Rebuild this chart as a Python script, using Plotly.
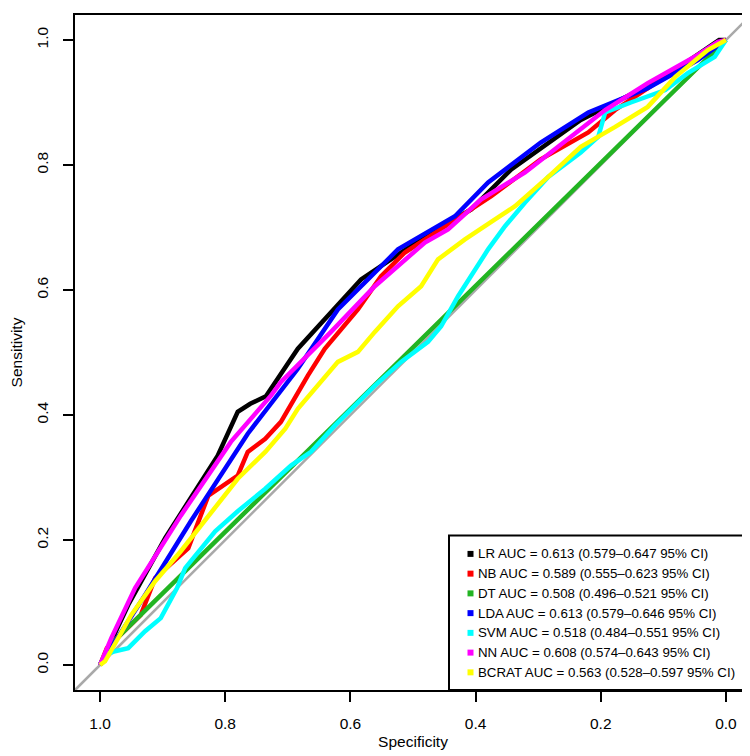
import plotly.graph_objects as go

# ---------------- data ----------------
models = ["LR", "NB", "DT", "LDA", "SVM", "NN", "BCRAT"]
auc = [0.613, 0.589, 0.508, 0.613, 0.518, 0.608, 0.563]
ci_low = [0.579, 0.555, 0.496, 0.579, 0.484, 0.574, 0.528]
ci_high = [0.647, 0.623, 0.521, 0.646, 0.551, 0.643, 0.597]
colors = ["#000000", "#FF0000", "#22B422", "#0000FF", "#00FFFF", "#FF00FF", "#FFFF00"]

lr_spec = [1.0, 0.955, 0.896, 0.812, 0.780, 0.760, 0.735, 0.684, 0.583, 0.471, 0.407, 0.343, 0.232, 0.097, 0.011, 0.0]
lr_sens = [0.0, 0.096, 0.203, 0.335, 0.405, 0.418, 0.430, 0.506, 0.617, 0.692, 0.729, 0.793, 0.872, 0.941, 1.0, 1.0]

nb_spec = [1.0, 0.989, 0.935, 0.912, 0.859, 0.827, 0.780, 0.764, 0.736, 0.711, 0.668, 0.641, 0.588,
           0.551, 0.513, 0.433, 0.375, 0.296, 0.220, 0.177, 0.113, 0.045, 0.0]
nb_sens = [0.0, 0.027, 0.080, 0.139, 0.187, 0.271, 0.303, 0.341, 0.362, 0.389, 0.463, 0.506, 0.569,
           0.622, 0.660, 0.713, 0.750, 0.809, 0.852, 0.888, 0.931, 0.976, 1.0]

dt_spec = [1.0, 0.985, 0.0]
dt_sens = [0.0, 0.031, 1.0]

lda_spec = [1.0, 0.928, 0.855, 0.764, 0.684, 0.620, 0.524, 0.433, 0.380, 0.296, 0.220, 0.125, 0.045, 0.0]
lda_sens = [0.0, 0.112, 0.230, 0.370, 0.474, 0.569, 0.665, 0.718, 0.772, 0.836, 0.884, 0.923, 0.968, 1.0]

svm_spec = [1.0, 0.992, 0.976, 0.955, 0.928, 0.903, 0.877, 0.864, 0.816, 0.780, 0.736, 0.695, 0.663,
            0.625, 0.561, 0.519, 0.476, 0.455, 0.428, 0.401, 0.380, 0.353, 0.321, 0.284, 0.232,
            0.204, 0.193, 0.152, 0.097, 0.061, 0.018, 0.0]
svm_sens = [0.0, 0.016, 0.022, 0.027, 0.054, 0.075, 0.123, 0.155, 0.214, 0.246, 0.282, 0.319, 0.341,
            0.383, 0.447, 0.485, 0.517, 0.542, 0.590, 0.633, 0.665, 0.702, 0.740, 0.781, 0.820,
            0.845, 0.884, 0.900, 0.920, 0.947, 0.973, 1.0]

nn_spec = [1.0, 0.982, 0.944, 0.871, 0.791, 0.727, 0.711, 0.631, 0.561, 0.481, 0.444, 0.391, 0.321,
           0.268, 0.193, 0.125, 0.045, 0.013, 0.0]
nn_sens = [0.0, 0.043, 0.123, 0.239, 0.357, 0.431, 0.453, 0.533, 0.606, 0.676, 0.697, 0.745, 0.788,
           0.829, 0.888, 0.931, 0.976, 0.997, 1.0]

bcrat_spec = [1.0, 0.992, 0.950, 0.912, 0.871, 0.827, 0.780, 0.736, 0.704, 0.684, 0.620, 0.588, 0.561,
              0.524, 0.487, 0.460, 0.417, 0.369, 0.337, 0.284, 0.232, 0.177, 0.125, 0.081, 0.029, 0.0]
bcrat_sens = [0.0, 0.006, 0.080, 0.134, 0.182, 0.239, 0.298, 0.341, 0.378, 0.410, 0.485, 0.501, 0.533,
              0.574, 0.606, 0.649, 0.681, 0.713, 0.734, 0.781, 0.829, 0.861, 0.893, 0.941, 0.984, 1.0]

specs = [lr_spec, nb_spec, dt_spec, lda_spec, svm_spec, nn_spec, bcrat_spec]
senss = [lr_sens, nb_sens, dt_sens, lda_sens, svm_sens, nn_sens, bcrat_sens]

tick_vals = [0.0, 0.2, 0.4, 0.6, 0.8, 1.0]
tick_text = ["0.0", "0.2", "0.4", "0.6", "0.8", "1.0"]

# ---------------- figure ----------------
W, H = 750, 756
L, R, T, B = 67, 7, 5, 74
FONT = "Liberation Sans, Arial, Helvetica, sans-serif"

fig = go.Figure()

# diagonal reference line (sens = 1 - spec) across the whole plot
fig.add_shape(type="line", xref="x domain", yref="y domain", x0=0, y0=0, x1=1, y1=1,
              line=dict(color="#A9A9A9", width=2.5), layer="below")

for name, sp, se, col in zip(models, specs, senss, colors):
    fig.add_trace(go.Scatter(x=sp, y=se, mode="lines", name=name,
                             line=dict(color=col, width=4.5), showlegend=False,
                             hoverinfo="skip"))

axis_common = dict(
    tickvals=tick_vals, ticktext=tick_text, ticks="outside", ticklen=10, tickwidth=2,
    tickcolor="black", showline=True, linecolor="black", linewidth=2, mirror=True,
    showgrid=False, zeroline=False, tickfont=dict(family=FONT, size=15.5, color="black"),
)

fig.update_xaxes(range=[1.04, -0.04], ticklabelstandoff=8,
                 title=dict(text="Specificity", font=dict(family=FONT, size=15.5, color="black"), standoff=6),
                 **axis_common)
fig.update_yaxes(range=[-0.04, 1.04], tickangle=-90, ticklabelstandoff=9,
                 title=dict(text="Sensitivity", font=dict(family=FONT, size=15.5, color="black"), standoff=10),
                 **axis_common)

# ---------------- legend (drawn in pixel layout) ----------------
pw, ph = W - L - R, H - T - B


def px_x(px):
    return (px - L) / pw


def px_y(py):
    return (H - B - py) / ph


leg_left, leg_right, leg_top, leg_bottom = 441, W - R, 527, H - B
fig.add_shape(type="rect", xref="paper", yref="paper",
              x0=px_x(leg_left), x1=px_x(leg_right), y0=px_y(leg_bottom), y1=px_y(leg_top),
              line=dict(color="black", width=2), fillcolor="white", layer="above")

row0, dy = 545.5, 19.8
for i, (name, a, lo, hi, col) in enumerate(zip(models, auc, ci_low, ci_high, colors)):
    cy = row0 + i * dy
    fig.add_shape(type="rect", xref="paper", yref="paper",
                  x0=px_x(459.5), x1=px_x(465.5), y0=px_y(cy + 3), y1=px_y(cy - 3),
                  line=dict(width=0), fillcolor=col, layer="above")
    fig.add_annotation(xref="paper", yref="paper", x=px_x(468), y=px_y(cy),
                       xanchor="left", yanchor="middle", showarrow=False,
                       text=f"{name} AUC = {a:.3f} ({lo:.3f}\u2013{hi:.3f} 95% CI)",
                       font=dict(family=FONT, size=13.3, color="black"))

fig.update_layout(
    width=W, height=H, margin=dict(l=L, r=R, t=T, b=B),
    plot_bgcolor="white", paper_bgcolor="white", showlegend=False,
    font=dict(family=FONT, color="black"),
)

fig.write_html("out.html")
